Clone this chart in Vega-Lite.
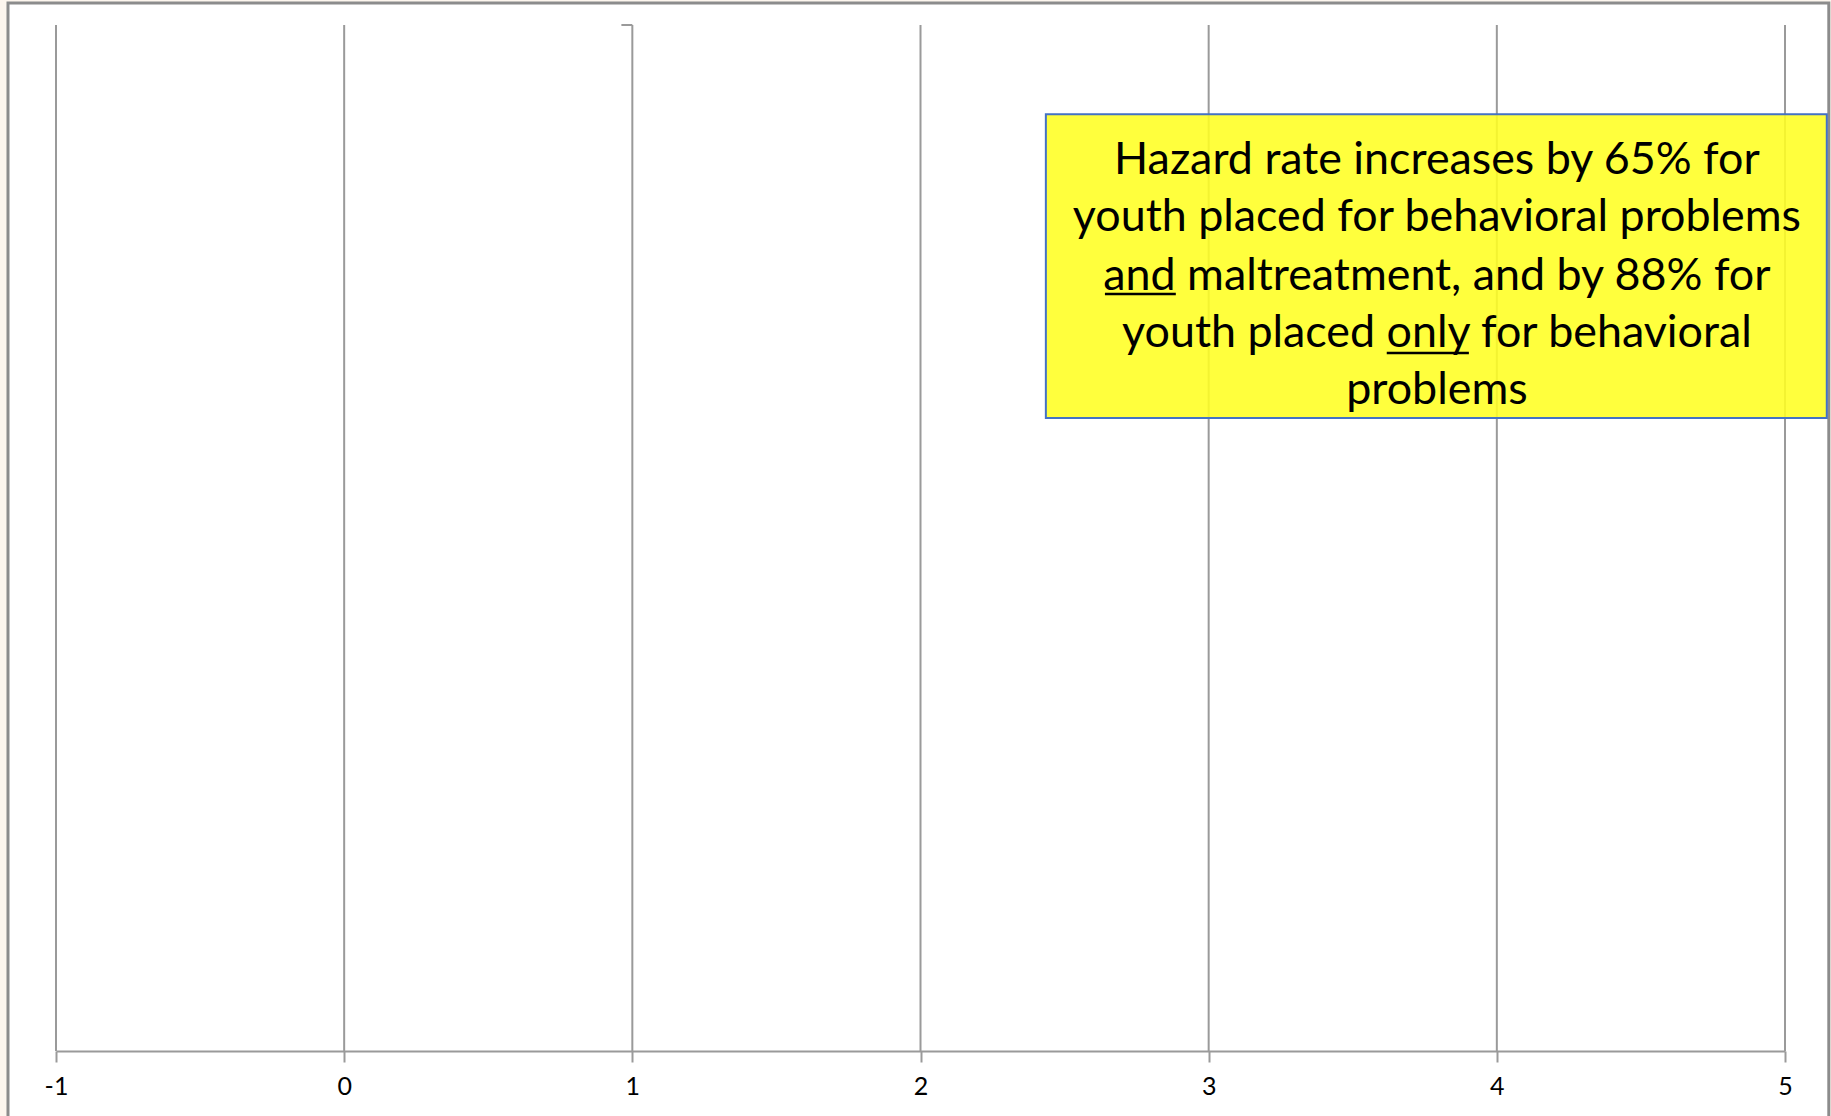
{
  "$schema": "https://vega.github.io/schema/vega-lite/v6.json",
  "width": 1729,
  "height": 1026,
  "autosize": "none",
  "padding": {"left": 56, "top": 25, "right": 46, "bottom": 65},
  "background": "#FDF6EE",
  "config": {
    "view": {"stroke": null},
    "axis": {"labelFont": "Lato", "titleFont": "Lato"}
  },
  "datasets": {
    "frame": [{"x": -1.1666, "x2": 5.152, "y": 1.0214, "y2": -0.2}],
    "grid": [{"v": -1}, {"v": 0}, {"v": 1}, {"v": 2}, {"v": 3}, {"v": 4}, {"v": 5}],
    "hook": [{"x": 0.962, "x2": 1.0, "y": 1.0}],
    "box": [{"x": 2.435, "x2": 5.145, "y": 0.913, "y2": 0.617}],
    "lines": [
      {"t": "Hazard rate increases by 65% for", "x": 3.792, "y": 0.8674},
      {"t": "youth placed for behavioral problems", "x": 3.792, "y": 0.8119},
      {"t": "and maltreatment, and by 88% for", "x": 3.792, "y": 0.7544},
      {"t": "youth placed only for behavioral", "x": 3.792, "y": 0.6988},
      {"t": "problems", "x": 3.792, "y": 0.6433}
    ],
    "underline": [
      {"x": 2.640, "x2": 2.886, "y": 0.7378},
      {"x": 3.618, "x2": 3.903, "y": 0.6803}
    ]
  },
  "layer": [
    {
      "data": {"name": "frame"},
      "mark": {"type": "rect", "fill": "white", "stroke": "#8c8c8c", "strokeWidth": 3},
      "encoding": {
        "x": {"field": "x", "type": "quantitative", "scale": {"domain": [-1, 5], "nice": false, "zero": false},
              "axis": {"values": [-1, 0, 1, 2, 3, 4, 5], "grid": false, "title": null, "zindex": 1,
                       "labelExpr": "'' + datum.value",
                       "domainColor": "#9a9a9a", "domainWidth": 2, "tickColor": "#9a9a9a", "tickWidth": 2,
                       "tickSize": 11, "labelFontSize": 25, "labelColor": "#000000", "labelPadding": 12,
                       "labelFlush": false, "labelOverlap": false}},
        "x2": {"field": "x2"},
        "y": {"field": "y", "type": "quantitative", "scale": {"domain": [0, 1], "nice": false, "zero": false}, "axis": null},
        "y2": {"field": "y2"}
      }
    },
    {
      "data": {"name": "grid"},
      "mark": {"type": "rule", "color": "#9a9a9a", "strokeWidth": 2},
      "encoding": {
        "x": {"field": "v", "type": "quantitative"}
      }
    },
    {
      "data": {"name": "hook"},
      "mark": {"type": "rule", "color": "#9a9a9a", "strokeWidth": 2},
      "encoding": {
        "x": {"field": "x", "type": "quantitative"},
        "x2": {"field": "x2"},
        "y": {"field": "y", "type": "quantitative", "axis": null}
      }
    },
    {
      "data": {"name": "box"},
      "mark": {"type": "rect", "fill": "#FFFF22", "fillOpacity": 0.88, "stroke": "#4472C4", "strokeWidth": 2},
      "encoding": {
        "x": {"field": "x", "type": "quantitative"},
        "x2": {"field": "x2"},
        "y": {"field": "y", "type": "quantitative", "axis": null},
        "y2": {"field": "y2"}
      }
    },
    {
      "data": {"name": "lines"},
      "mark": {"type": "text", "font": "Lato", "fontSize": 44.8, "color": "#000000", "align": "center", "baseline": "middle"},
      "encoding": {
        "x": {"field": "x", "type": "quantitative"},
        "y": {"field": "y", "type": "quantitative", "axis": null},
        "text": {"field": "t", "type": "nominal"}
      }
    },
    {
      "data": {"name": "underline"},
      "mark": {"type": "rule", "color": "#000000", "strokeWidth": 2.5},
      "encoding": {
        "x": {"field": "x", "type": "quantitative"},
        "x2": {"field": "x2"},
        "y": {"field": "y", "type": "quantitative", "axis": null}
      }
    }
  ]
}
